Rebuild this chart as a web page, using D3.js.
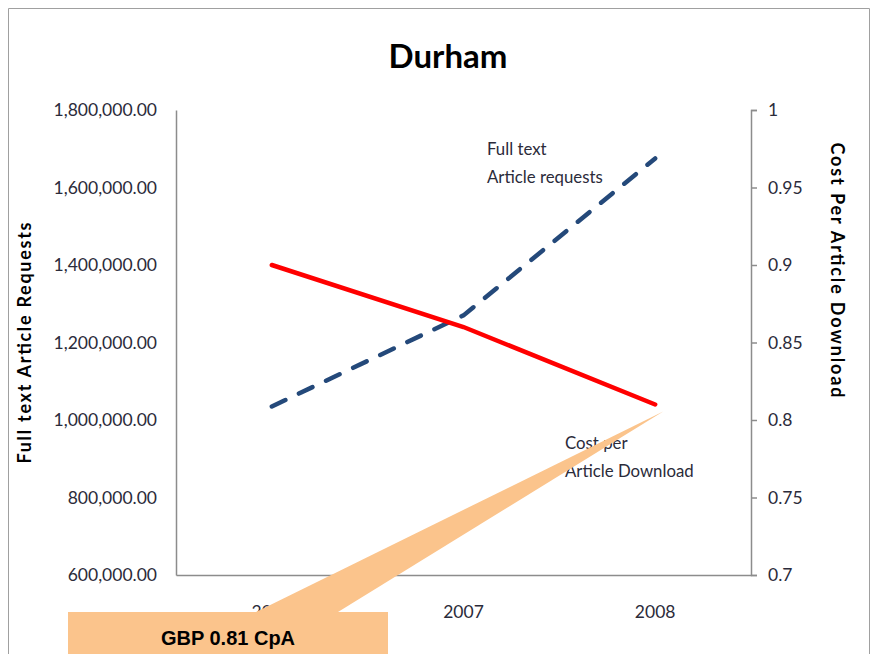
<!DOCTYPE html>
<html>
<head>
<meta charset="utf-8">
<script src="https://cdn.jsdelivr.net/npm/d3@7"></script>
<style>
  body { margin: 0; background: #fff; }
  svg { display: block; }
  text { font-family: Lato, "Open Sans", sans-serif; }
</style>
</head>
<body>
<svg width="876" height="654"></svg>
<script>
const years = ["2006", "2007", "2008"];
const articleRequests = [1035000, 1270000, 1675000];
const costPerDownload = [0.90, 0.86, 0.81];
const leftTicks = [600000, 800000, 1000000, 1200000, 1400000, 1600000, 1800000];
const rightTicks = [0.7, 0.75, 0.8, 0.85, 0.9, 0.95, 1];

const svg = d3.select("svg");

// outer frame (cut at the bottom like the screenshot)
svg.append("path")
  .attr("d", "M8.5,660 V8.5 H869.5 V660")
  .attr("fill", "none")
  .attr("stroke", "#a0a0a0");

const plot = {left: 176, right: 751, top: 110, bottom: 575};

const x = d3.scaleBand().domain(years).range([plot.left, plot.right]);
const yL = d3.scaleLinear().domain([600000, 1800000]).range([plot.bottom, plot.top]);
const yR = d3.scaleLinear().domain([0.7, 1]).range([plot.bottom, plot.top]);
const cx = d => x(d) + x.bandwidth() / 2;

// title
svg.append("text")
  .attr("x", 448).attr("y", 68)
  .attr("text-anchor", "middle")
  .style("font-size", "33px").style("font-weight", "bold")
  .text("Durham");

// left axis
const gL = svg.append("g")
  .attr("transform", `translate(${plot.left},0)`)
  .call(d3.axisLeft(yL).tickValues(leftTicks).tickFormat(d3.format(",.2f"))
    .tickSize(0).tickPadding(19));

// right axis
const gR = svg.append("g")
  .attr("transform", `translate(${plot.right},0)`)
  .call(d3.axisRight(yR).tickValues(rightTicks).tickFormat(d => String(+d.toFixed(2)))
    .tickSize(6).tickSizeOuter(6).tickPadding(11));

// bottom axis
const gB = svg.append("g")
  .attr("transform", `translate(0,${plot.bottom})`)
  .call(d3.axisBottom(x).tickSize(0).tickSizeOuter(0).tickPadding(31));

[gL, gR, gB].forEach(g => {
  g.selectAll(".domain, line").attr("stroke", "#8c8c8c").attr("stroke-width", 1.5);
  g.selectAll("text").style("font-size", "17.5px").attr("fill", "#2b2b3a")
    .style("font-family", "Lato, 'Open Sans', sans-serif");
});

// axis titles
svg.append("text")
  .attr("transform", `translate(31,343) rotate(-90)`)
  .attr("text-anchor", "middle")
  .attr("textLength", 241).attr("lengthAdjust", "spacing")
  .style("font-size", "18px").style("font-weight", "bold")
  .text("Full text Article Requests");

svg.append("text")
  .attr("transform", `translate(831,270) rotate(90)`)
  .attr("text-anchor", "middle")
  .attr("textLength", 255).attr("lengthAdjust", "spacing")
  .style("font-size", "18px").style("font-weight", "bold")
  .text("Cost Per Article Download");

// series lines
const reqData = years.map((y, i) => ({year: y, v: articleRequests[i]}));
const costData = years.map((y, i) => ({year: y, v: costPerDownload[i]}));

svg.append("path")
  .datum(reqData)
  .attr("fill", "none")
  .attr("stroke", "#24497a")
  .attr("stroke-width", 4.5)
  .attr("stroke-linecap", "round")
  .attr("stroke-dasharray", "15 15")
  .attr("d", d3.line().x(d => cx(d.year)).y(d => yL(d.v)));

svg.append("path")
  .datum(costData)
  .attr("fill", "none")
  .attr("stroke", "#ff0000")
  .attr("stroke-width", 4.5)
  .attr("stroke-linecap", "round")
  .attr("d", d3.line().x(d => cx(d.year)).y(d => yR(d.v)));

// series labels
function label(lines, lx, ly) {
  const t = svg.append("text").attr("x", lx).attr("y", ly)
    .style("font-size", "16.8px").attr("fill", "#2b2b3a");
  lines.forEach((s, i) => t.append("tspan").attr("x", lx).attr("dy", i ? 28 : 0).text(s));
}
label(["Full text", "Article requests"], 487, 155);
label(["Cost per", "Article Download"], 565, 449);

// callout
const tipX = cx("2008") + 8, tipY = yR(costPerDownload[2]) + 7;
svg.append("path")
  .attr("d", `M252,614 L${tipX},${tipY} L338,612 Z`)
  .attr("fill", "#fbc48c");
svg.append("rect")
  .attr("x", 68).attr("y", 612).attr("width", 320).attr("height", 50)
  .attr("fill", "#fbc48c");
svg.append("text")
  .attr("x", 228).attr("y", 645)
  .attr("text-anchor", "middle")
  .style("font-family", "'Liberation Sans', Arial, sans-serif")
  .style("font-size", "20px").style("font-weight", "bold")
  .text(`GBP ${costPerDownload[2].toFixed(2)} CpA`);
</script>
</body>
</html>
